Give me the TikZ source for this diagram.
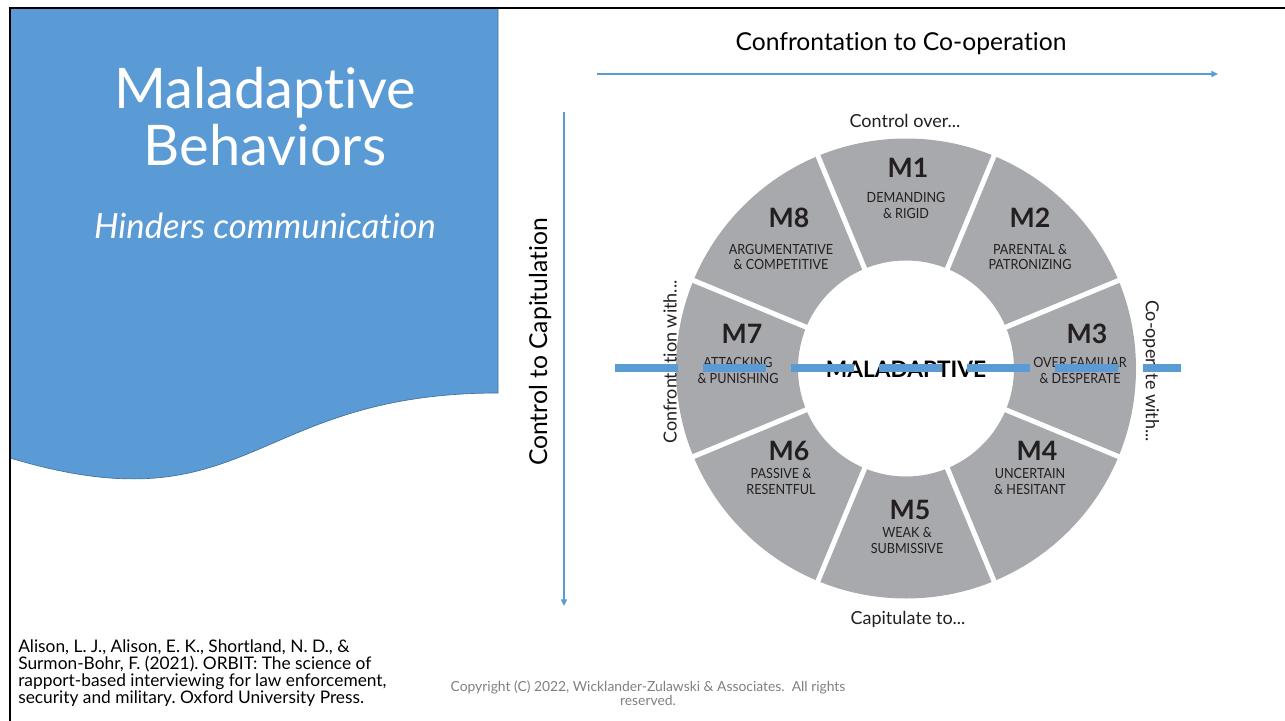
\documentclass[tikz,border=0pt]{standalone}
\usepackage{fontspec}
\setmainfont{Lato}[Ligatures={NoCommon,NoRare}]
\newfontfamily\condfont[FakeStretch=0.9,Ligatures={NoCommon,NoRare}]{Lato}
\usetikzlibrary{arrows.meta}
\frenchspacing

\definecolor{slideblue}{RGB}{91,155,213}
\definecolor{paneledge}{RGB}{65,113,156}
\definecolor{ringgray}{RGB}{167,169,172}
\definecolor{inkgray}{RGB}{35,31,32}
\definecolor{notegray}{RGB}{128,128,128}

\tikzset{
  axisarrow/.style={slideblue, line width=1.1pt, -{Triangle[length=5pt,width=4.5pt]}},
  mlabel/.style={text=inkgray, font=\bfseries\fontsize{20}{20}\selectfont},
  sublabel/.style={text=inkgray, align=center, font=\condfont\fontsize{10.5}{11.5}\selectfont},
  sidelabel/.style={text=inkgray, font=\fontsize{13.5}{13.5}\selectfont},
  axislabel/.style={font=\fontsize{18.5}{18.5}\selectfont, anchor=base},
}

\begin{document}
\begin{tikzpicture}[x=0.75pt,y=-0.75pt]
\useasboundingbox (0,0) rectangle (1285,721);
% title panel
\fill[slideblue, draw=paneledge, line width=0.5pt] (10,8) -- (498,8) -- (498,393)
  .. controls (250,393) and (250,530) .. (10,458) -- cycle;
\draw[line width=1.5pt] (9.5,721) -- (9.5,8) -- (1285,8);
\node[text=white, anchor=base, font=\fontsize{42}{42}\selectfont] (title1) at (265,108) {Maladaptive};
\node[text=white, anchor=base, font=\fontsize{42}{42}\selectfont] (title2) at (265,165) {Behaviors};
\node[text=white, anchor=base, font=\itshape\fontsize{26}{26}\selectfont] (hinders) at (265,238) {Hinders communication};

% axes
\coordinate (h0) at (597,74); \coordinate (h1) at (1218,74);
\coordinate (v0) at (564,112); \coordinate (v1) at (564,606);
\draw[axisarrow] (h0) -- (h1);
\draw[axisarrow] (v0) -- (v1);
\node[axislabel] (xlabel) at (901,50) {Confrontation to Co-operation};
\node[axislabel, rotate=90] (ylabel) at (547,342) {Control to Capitulation};

% ring
\coordinate (c) at (906,368.5);
\fill[ringgray, even odd rule] (c) circle (230) (c) circle (108);
\foreach \a in {22.5,67.5,...,337.5}
  \draw[white, line width=3.75pt] (c) ++(\a:106) -- ++(\a:126);
\foreach \k/\mx/\my/\sx/\sy/\txt in {
    1/908/168/906/205.5/{DEMANDING\\\& RIGID},
    2/1030/218/1030/257/{PARENTAL \&\\PATRONIZING},
    3/1087/334/1080/370.5/{OVER FAMILIAR\\\& DESPERATE},
    4/1037/451/1030/481.5/{UNCERTAIN\\\& HESITANT},
    5/910/510/907/540.5/{WEAK \&\\SUBMISSIVE},
    6/789/451/781/481.5/{PASSIVE \&\\RESENTFUL},
    7/742/334/738/370.5/{ATTACKING\\\& PUNISHING},
    8/789/218/781/257/{ARGUMENTATIVE\\\& COMPETITIVE}}{
  \node[mlabel] (m\k) at (\mx,\my) {M\k};
  \node[sublabel] (s\k) at (\sx,\sy) {\txt};
}
\node[text=black, font=\bfseries\fontsize{17}{17}\selectfont] (core) at (906,369) {MALADAPTIVE};

\node[sidelabel] (ctrl) at (905,121) {Control over...};
\node[sidelabel] (capit) at (908,619) {Capitulate to...};
\node[sidelabel, rotate=90] (confw) at (670,362) {Confrontation with...};
\node[sidelabel, rotate=-90] (coopw) at (1151,371) {Co-operate with...};

% dashed cut
\coordinate (d0) at (615,367.5); \coordinate (d1) at (1181,367.5);
\draw[slideblue, line width=6pt, dash pattern=on 47.25pt off 18.75pt] (d0) -- (d1);

% footer
\node[anchor=north west, inner sep=0pt, align=left, font=\fontsize{13}{12.75}\selectfont] (ref) at (18,639)
  {Alison, L. J., Alison, E. K., Shortland, N. D., \&\\Surmon-Bohr, F. (2021). ORBIT: The science of\\rapport-based interviewing for law enforcement,\\security and military. Oxford University Press.};
\node[text=notegray, align=center, font=\fontsize{10.4}{10.5}\selectfont] (copy) at (648,693)
  {Copyright (C) 2022, Wicklander-Zulawski \& Associates.\ \ All rights\\reserved.};
\end{tikzpicture}
\end{document}
